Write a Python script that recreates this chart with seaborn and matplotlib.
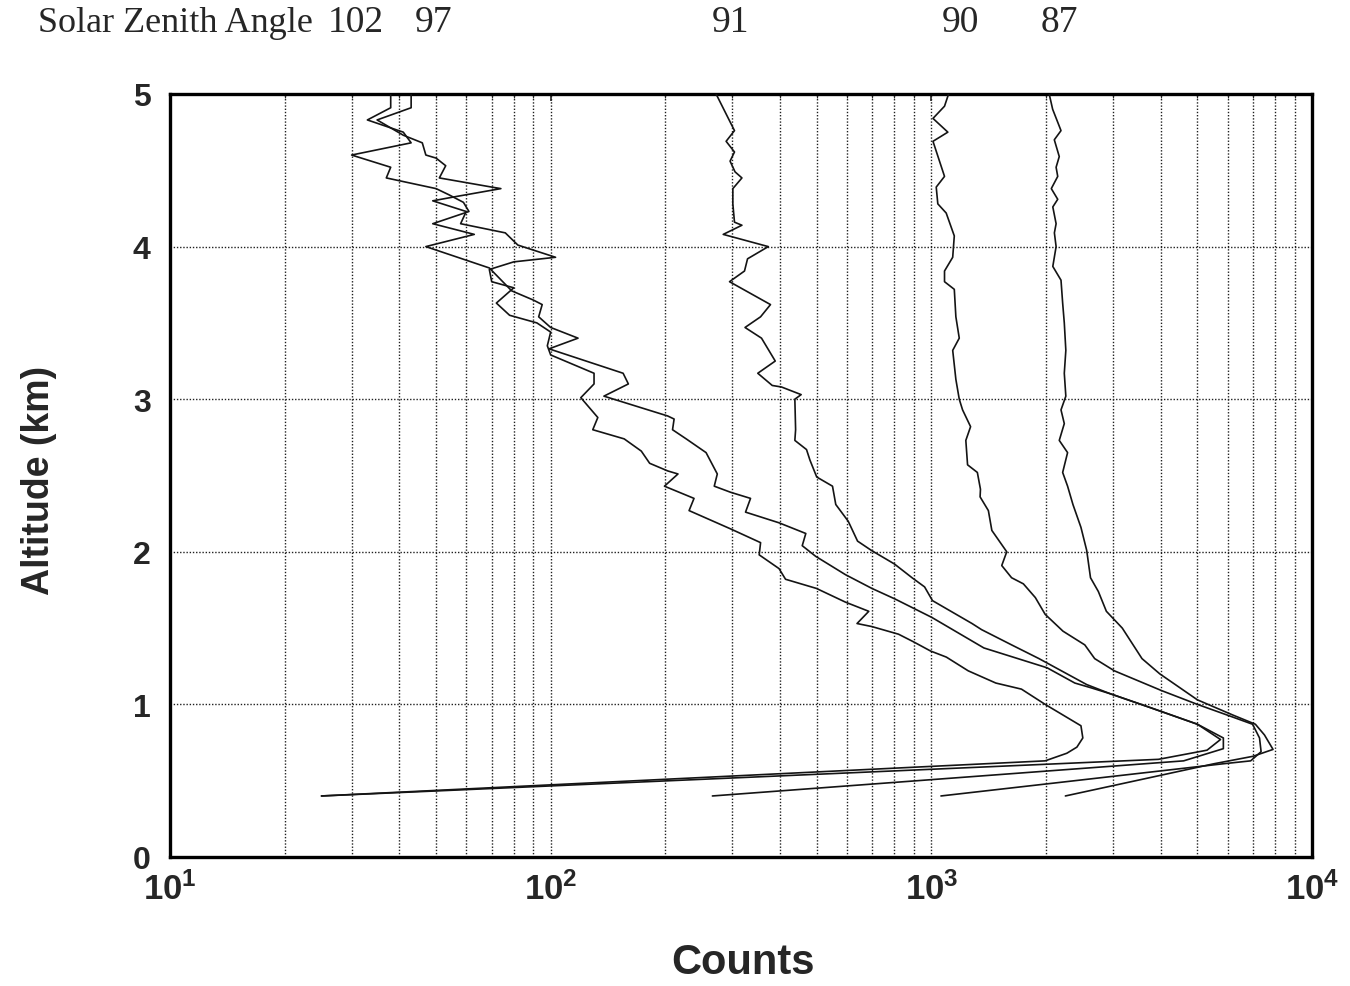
import numpy as np
import pandas as pd
import matplotlib
matplotlib.use("Agg")
import matplotlib.pyplot as plt
from matplotlib.ticker import LogLocator, FixedLocator, FixedFormatter, NullFormatter, NullLocator
import seaborn as sns

# ---------------- data ----------------
sza_labels = ["102", "97", "91", "90", "87"]

alt_102 = [5.0, 4.91, 4.83, 4.73, 4.68, 4.60, 4.58, 4.53, 4.45, 4.39, 4.38, 4.33, 4.30, 4.23, 4.15,
           4.09, 4.01, 3.93, 3.90, 3.85, 3.77, 3.73, 3.63, 3.55, 3.50, 3.44, 3.35, 3.29, 3.17, 3.10,
           3.01, 2.88, 2.80, 2.74, 2.66, 2.58, 2.53, 2.51, 2.43, 2.35, 2.27, 2.15, 2.06, 1.98, 1.89,
           1.82, 1.76, 1.67, 1.61, 1.53, 1.51, 1.46, 1.41, 1.35, 1.31, 1.22, 1.14, 1.10, 1.00, 0.86,
           0.78, 0.72, 0.68, 0.63, 0.40]
cnt_102 = [43, 43, 35, 41, 46, 47, 50, 53, 51, 70, 74, 57, 49, 60, 58,
           76, 82, 103, 80, 69, 70, 80, 72, 78, 92, 100, 98, 100, 130, 130,
           120, 133, 129, 156, 173, 182, 203, 216, 199, 238, 231, 297, 356, 353, 398,
           414, 499, 595, 685, 638, 698, 820, 898, 995, 1095, 1250, 1477, 1725, 1991, 2472,
           2500, 2412, 2270, 1990, 25]

alt_97 = [5.0, 4.91, 4.83, 4.75, 4.68, 4.60, 4.52, 4.45, 4.38, 4.34, 4.29, 4.23, 4.15, 4.08, 4.00,
          3.86, 3.71, 3.65, 3.62, 3.54, 3.47, 3.40, 3.33, 3.17, 3.10, 3.02, 2.89, 2.87, 2.80, 2.74,
          2.65, 2.51, 2.43, 2.39, 2.35, 2.26, 2.19, 2.12, 2.04, 1.97, 1.85, 1.76, 1.69, 1.57, 1.37,
          1.24, 1.14, 1.11, 1.07, 0.98, 0.87, 0.77, 0.70, 0.64, 0.40]
cnt_97 = [38, 38, 33, 41, 43, 30, 38, 37, 50, 54, 59, 61, 49, 63, 47,
          69, 79, 90, 95, 93, 100, 118, 99, 155, 160, 138, 203, 211, 209, 227,
          256, 274, 269, 297, 335, 325, 398, 468, 458, 497, 595, 698, 804, 1003, 1374,
          2014, 2382, 2618, 2950, 3750, 5000, 5750, 5300, 3950, 25]

alt_91 = [5.0, 4.76, 4.69, 4.62, 4.56, 4.49, 4.45, 4.38, 4.28, 4.16, 4.14, 4.08, 4.00, 3.92, 3.84,
          3.77, 3.62, 3.54, 3.47, 3.40, 3.25, 3.17, 3.09, 3.08, 3.03, 3.00, 2.80, 2.73, 2.67, 2.60,
          2.49, 2.43, 2.31, 2.20, 2.07, 2.01, 1.92, 1.83, 1.77, 1.68, 1.53, 1.49, 1.39, 1.30, 1.13,
          1.07, 0.98, 0.87, 0.78, 0.71, 0.63, 0.40]
cnt_91 = [272, 304, 289, 304, 296, 305, 318, 301, 301, 304, 318, 284, 373, 329, 323,
          295, 378, 356, 324, 358, 389, 350, 382, 404, 455, 438, 440, 438, 470, 480,
          500, 550, 561, 605, 640, 695, 800, 890, 960, 1007, 1279, 1355, 1625, 1918, 2559,
          2950, 3750, 5000, 5850, 5850, 4600, 266]

alt_90 = [5.0, 4.92, 4.84, 4.75, 4.69, 4.46, 4.39, 4.28, 4.22, 4.07, 3.93, 3.84, 3.77, 3.72, 3.54,
          3.40, 3.32, 3.13, 3.00, 2.93, 2.82, 2.73, 2.57, 2.52, 2.41, 2.36, 2.27, 2.14, 2.00, 1.91,
          1.83, 1.79, 1.70, 1.59, 1.48, 1.39, 1.30, 1.22, 1.09, 1.00, 0.93, 0.87, 0.78, 0.69, 0.63,
          0.61, 0.40]
cnt_90 = [1110, 1083, 1010, 1105, 1010, 1083, 1030, 1040, 1094, 1149, 1138, 1083, 1083, 1149, 1160,
          1184, 1138, 1160, 1184, 1208, 1268, 1232, 1245, 1321, 1346, 1343, 1412, 1442, 1578, 1531,
          1625, 1745, 1876, 1991, 2217, 2530, 2686, 3026, 4030, 5000, 5990, 6980, 7280, 7350, 6900,
          5800, 1060]

alt_87 = [5.0, 4.90, 4.76, 4.70, 4.59, 4.52, 4.46, 4.38, 4.31, 4.26, 4.15, 4.09, 4.00, 3.87, 3.78,
          3.63, 3.50, 3.32, 3.17, 3.02, 2.93, 2.84, 2.73, 2.65, 2.52, 2.43, 2.31, 2.16, 2.01, 1.83,
          1.74, 1.61, 1.50, 1.30, 1.20, 1.03, 0.93, 0.87, 0.80, 0.705, 0.66, 0.61, 0.40]
cnt_87 = [2040, 2083, 2191, 2104, 2168, 2127, 2148, 2066, 2148, 2085, 2127, 2105, 2127, 2085, 2191,
          2213, 2235, 2256, 2235, 2256, 2191, 2235, 2168, 2280, 2213, 2280, 2355, 2472, 2559, 2619,
          2746, 2883, 3174, 3576, 3983, 4999, 6200, 7100, 7500, 7900, 7000, 5500, 2250]

x_tick_values = [10, 100, 1000, 10000]
x_tick_labels = [r"$\mathbf{10^{1}}$", r"$\mathbf{10^{2}}$", r"$\mathbf{10^{3}}$", r"$\mathbf{10^{4}}$"]
y_tick_values = [0, 1, 2, 3, 4, 5]

# ---------------- build long table ----------------
series = {
    "102": (alt_102, cnt_102),
    "97": (alt_97, cnt_97),
    "91": (alt_91, cnt_91),
    "90": (alt_90, cnt_90),
    "87": (alt_87, cnt_87),
}
frames = []
for lab in sza_labels:
    a, c = series[lab]
    frames.append(pd.DataFrame({"alt": a, "counts": c, "sza": lab}))
df = pd.concat(frames, ignore_index=True)

# ---------------- style ----------------
sns.set_style("white")
plt.rcParams["font.family"] = ["Liberation Sans", "DejaVu Sans"]
plt.rcParams["mathtext.fontset"] = "custom"
plt.rcParams["mathtext.bf"] = "Liberation Sans:bold"
plt.rcParams["mathtext.rm"] = "Liberation Sans:bold"

W, H = 1350, 987
fig = plt.figure(figsize=(W / 100, H / 100), dpi=100)
ax_left, ax_right, ax_top, ax_bottom = 170, 1312, 95, 858
ax = fig.add_axes([ax_left / W, 1 - ax_bottom / H, (ax_right - ax_left) / W, (ax_bottom - ax_top) / H])

line_color = "#141414"
sns.lineplot(data=df, x="counts", y="alt", hue="sza", hue_order=sza_labels,
             palette={k: line_color for k in sza_labels}, estimator=None, sort=False,
             legend=False, linewidth=1.2, ax=ax, zorder=3)

ax.set_xscale("log")
ax.set_xlim(10, 10000)
ax.set_ylim(0, 5)

ax.xaxis.set_major_locator(FixedLocator(x_tick_values))
ax.xaxis.set_major_formatter(FixedFormatter(x_tick_labels))
ax.xaxis.set_minor_locator(LogLocator(base=10, subs=np.arange(2, 10)))
ax.xaxis.set_minor_formatter(NullFormatter())
ax.yaxis.set_major_locator(FixedLocator(y_tick_values))
ax.yaxis.set_minor_locator(NullLocator())

grid_kw = dict(color="#202020", linestyle=(0, (1, 1.3)), linewidth=1.0)
ax.grid(True, which="both", axis="x", **grid_kw)
ax.grid(True, which="major", axis="y", **grid_kw)

for s in ax.spines.values():
    s.set_visible(True)
    s.set_linewidth(2.4)
    s.set_color("black")

ax.tick_params(axis="both", which="major", direction="in", length=5, width=1.2,
               top=True, right=False)
ax.tick_params(axis="x", which="minor", direction="in", length=3, width=0.8, top=True)
ax.tick_params(axis="x", which="major", pad=10, labelsize=25)
ax.tick_params(axis="y", which="major", pad=14, labelsize=23)
for lbl in ax.get_yticklabels():
    lbl.set_fontweight("bold")

ax.set_xlabel("Counts", fontsize=30, fontweight="bold")
ax.set_ylabel("Altitude (km)", fontsize=27, fontweight="bold")
ax.xaxis.set_label_coords((743 - ax_left) / (ax_right - ax_left), (ax_bottom - 943) / (ax_bottom - ax_top))
ax.yaxis.set_label_coords((57 - ax_left) / (ax_right - ax_left), (ax_bottom - 480) / (ax_bottom - ax_top))

# header text with angle labels
header_y = 1 - 23 / H
serif = ["Liberation Serif", "DejaVu Serif"]
fig.text(38 / W, header_y, "Solar Zenith Angle", family=serif, fontsize=26, va="center", ha="left")
label_left_px = [328, 415, 712, 942, 1041]
for lab, px in zip(sza_labels, label_left_px):
    fig.text(px / W, header_y, lab, family=serif, fontsize=27, va="center", ha="left")

fig.savefig("out.png", dpi=100, facecolor="white")
